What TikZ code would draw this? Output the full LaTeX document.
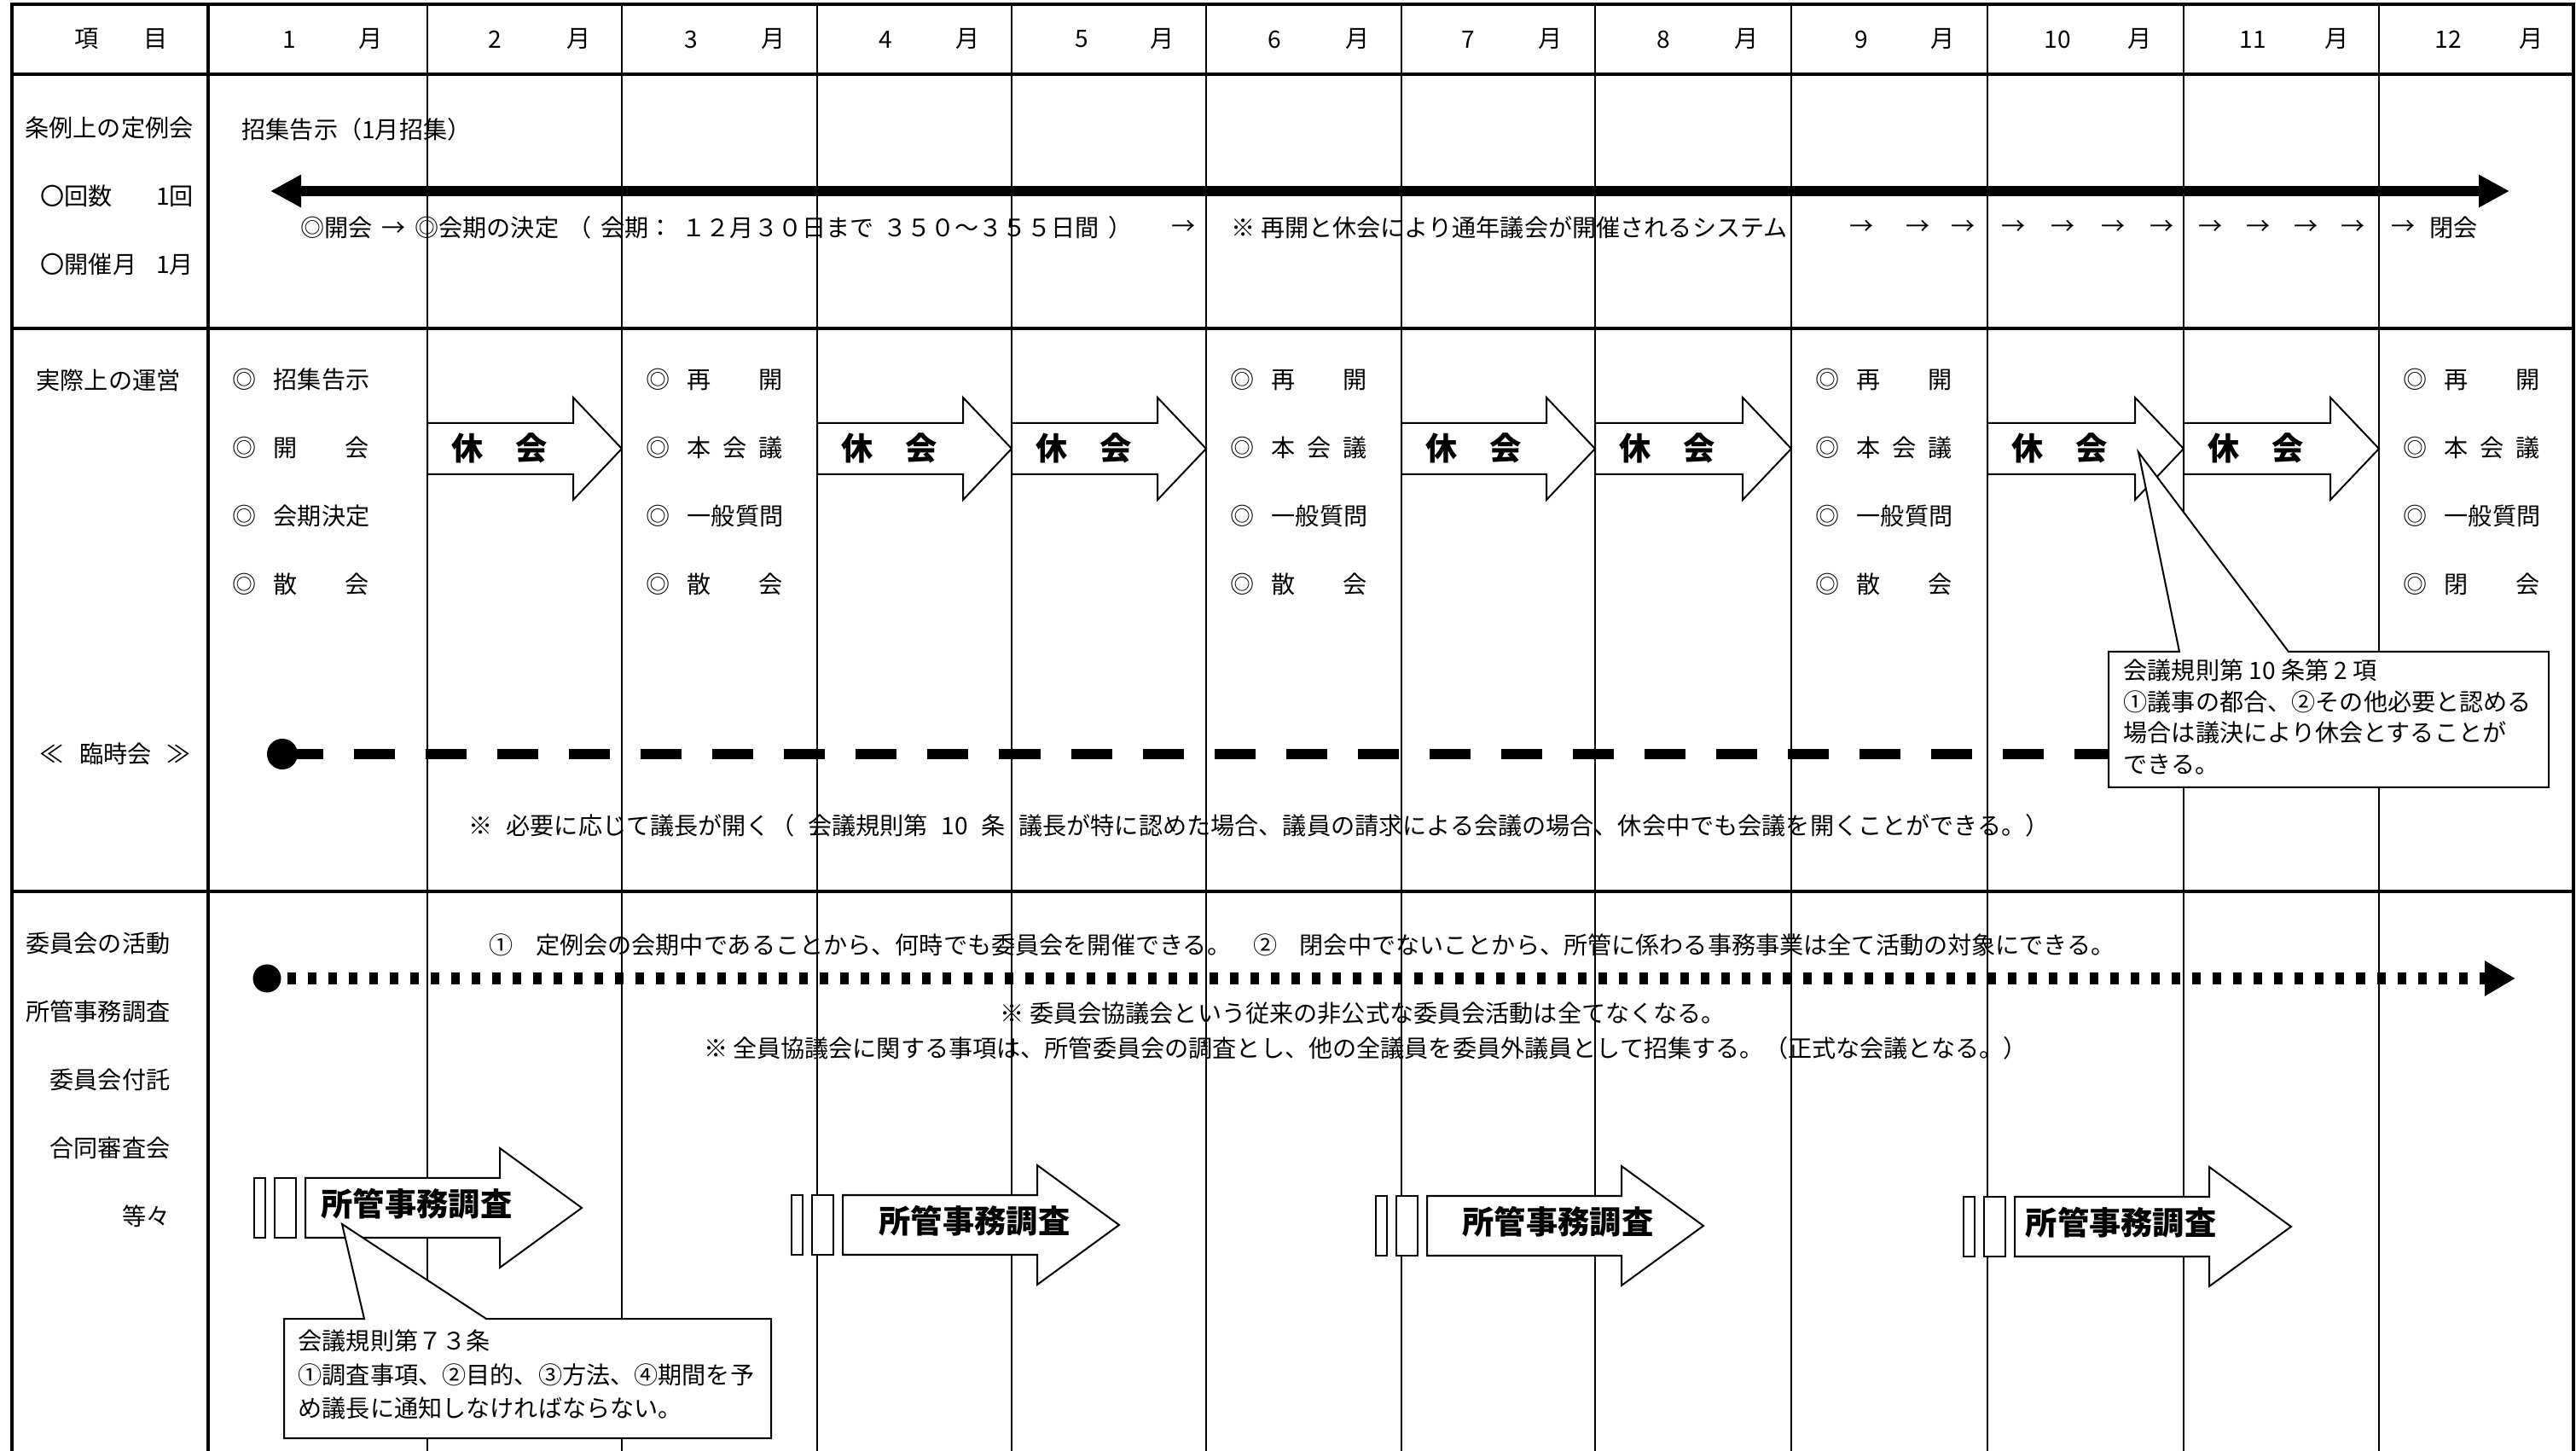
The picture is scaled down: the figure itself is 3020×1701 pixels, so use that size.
\documentclass[tikz,border=0pt]{standalone}
\usepackage{fontspec}
\setmainfont{Noto Sans CJK JP}
\usepackage{tikz}
\usetikzlibrary{arrows.meta}
\newcommand{\spread}[2]{\makebox[#1cm][s]{#2}}

\begin{document}
\begin{tikzpicture}[x=0.01cm,y=-0.01cm,
  txt/.style={inner sep=0pt,font=\fontsize{8pt}{10pt}\selectfont},
  bigtxt/.style={inner sep=0pt,font=\fontsize{10.6pt}{12pt}\selectfont\bfseries},
  thickrule/.style={line width=0.035cm,line cap=rect},
  thinrule/.style={line width=0.02cm},
  blk/.style={draw,fill=white,line width=0.02cm,line join=miter},
  dot/.style={circle,fill=black,inner sep=0pt}]
\useasboundingbox (0,0) rectangle (3020,1701);
% table rules
\foreach \x in {501,729,958,1186,1414,1643,1870,2100,2330,2560,2789}
  \draw[thinrule] (\x,5) -- (\x,1701);
\foreach \x in {14,244,3017}
  \draw[thickrule] (\x,5) -- (\x,1701);
\foreach \y in {5,87,385,1045}
  \draw[thickrule] (14,\y) -- (3017,\y);
% header
\node[txt] (head) at (142,46) {\spread{1.09}{項 目}};
\foreach \n/\nx/\mx in {1/339/435,2/580/679,3/810/907,4/1038/1135,5/1268/1363,6/1494/1592,
    7/1721/1818,8/1950/2048,9/2182/2278,10/2412/2509,11/2641/2740,12/2870/2968}{
  \node[txt] (mn\n) at (\nx,46) {\n};
  \node[txt] (mm\n) at (\mx,46) {月};
}
% row 1: teireikai
\node[txt] (r1a) at (128,150) {条例上の定例会};
\node[txt,anchor=west] (r1b) at (47,230) {\spread{1.79}{〇回数 1回}};
\node[txt,anchor=west] (r1c) at (47,310) {\spread{1.79}{〇開催月 1月}};
\node[txt,anchor=west] (kokuji) at (283,152) {招集告示（1月招集）};
\coordinate (tsL) at (317,224);
\coordinate (tsR) at (2942,224);
\draw[line width=0.12cm,{Triangle[length=0.36cm,width=0.36cm]}-{Triangle[length=0.36cm,width=0.36cm]}] (tsL) -- (tsR);
\node[txt,anchor=west] (kaikai) at (352,267) {\spread{9.74}{◎開会 → ◎会期の決定 （ 会期： １２月３０日まで ３５０～３５５日間 ）}};
\node[txt] (ya0) at (1388,267) {→};
\node[txt,anchor=west] (system) at (1443,267) {※ 再開と休会により通年議会が開催されるシステム};
\foreach \x [count=\i] in {2183,2249,2302,2361,2419,2478,2535,2592,2648,2704,2759,2818}
  \node[txt] (ya\i) at (\x,267) {→};
\node[txt,anchor=west] (heikai) at (2848,267) {閉会};
% row 2: actual running
\node[txt] (r2a) at (127,446) {実際上の運営};
\node[txt,anchor=west] (rinji) at (46,884) {\spread{1.77}{≪ 臨時会 ≫}};
\foreach \t [count=\i] in {招集告示,開 会,会期決定,散 会}
  \node[txt,anchor=west] (it244-\i) at (272,{365+80*\i}) {◎\hspace{0.2cm}\spread{1.12}{\t}};
\foreach \c in {729,1414,2100}
  \foreach \t [count=\i] in {再 開,本 会 議,一般質問,散 会}
    \node[txt,anchor=west] (it\c-\i) at (\c+28,{365+80*\i}) {◎\hspace{0.2cm}\spread{1.12}{\t}};
\foreach \t [count=\i] in {再 開,本 会 議,一般質問,閉 会}
  \node[txt,anchor=west] (it2789-\i) at (2817,{365+80*\i}) {◎\hspace{0.2cm}\spread{1.12}{\t}};
\foreach \l/\r in {501/729,958/1186,1186/1414,1643/1870,1870/2100,2330/2560,2560/2789}{
  \draw[blk] (\l,496) -- (\r-57,496) -- (\r-57,466) -- (\r,526) -- (\r-57,586) -- (\r-57,556) -- (\l,556) -- cycle;
  \node[bigtxt,anchor=west] (kyu\l) at (\l+28,525) {休　会};
}
\node[dot,minimum size=0.36cm] (rdot) at (331,884) {};
\coordinate (rend) at (2480,884);
\draw[line width=0.12cm,dash pattern=on 0.48cm off 0.36cm] (rdot.center) -- (rend);
\node[txt,anchor=west] (hitsuyo) at (549,968) {\spread{18.52}{※ 必要に応じて議長が開く（ 会議規則第 10 条 議長が特に認めた場合、議員の請求による会議の場合、休会中でも会議を開くことができる。）}};
% callout for kyukai
\draw[blk] (2472,764) -- (2555,764) -- (2507,530) -- (2683,764) -- (2988,764) -- (2988,923) -- (2472,923) -- cycle;
\node[txt,anchor=north west,align=left,font=\fontsize{8pt}{10.4pt}\selectfont] (kisoku10) at (2489,772)
  {会議規則第 10 条第 2 項\\①議事の都合、②その他必要と認める\\場合は議決により休会とすることが\\できる。};
% row 3: committees
\foreach \t/\y in {委員会の活動/1106,所管事務調査/1186,委員会付託/1266,合同審査会/1346,等々/1426}
  \node[txt,anchor=east] (r3-\y) at (200,\y) {\t};
\node[txt,anchor=west] (kaiki) at (573,1108) {\spread{19.05}{① 定例会の会期中であることから、何時でも委員会を開催できる。 ② 閉会中でないことから、所管に係わる事務事業は全て活動の対象にできる。}};
\node[dot,minimum size=0.33cm] (idot) at (313,1147) {};
\coordinate (iend) at (2949,1147);
\draw[line width=0.14cm,dash pattern=on 0.1cm off 0.14cm,-{Triangle[length=0.36cm,width=0.39cm]}] (idot.center) -- (iend);
\node[txt,anchor=west] (kyogi) at (1172,1188) {※ 委員会協議会という従来の非公式な委員会活動は全てなくなる。};
\node[txt,anchor=west] (zenin) at (825,1229) {\spread{15.5}{※ 全員協議会に関する事項は、所管委員会の調査とし、他の全議員を委員外議員として招集する。（正式な会議となる。）}};
\foreach \b/\c/\o in {358/1416/20,988/1436/44,1673/1437/43,2362/1438/14}{
  \draw[blk] (\b-60,\c-35) rectangle (\b-47,\c+35);
  \draw[blk] (\b-36,\c-35) rectangle (\b-11,\c+35);
  \draw[blk] (\b,\c-35) -- (\b+228,\c-35) -- (\b+228,\c-70) -- (\b+324,\c) -- (\b+228,\c+70) -- (\b+228,\c+35) -- (\b,\c+35) -- cycle;
  \node[bigtxt,anchor=west] (shokan\b) at (\b+\o-2,\c-5) {所管事務調査};
}
% callout for article 73
\draw[blk] (333,1546) -- (427,1546) -- (401,1435) -- (570,1546) -- (904,1546) -- (904,1686) -- (333,1686) -- cycle;
\node[txt,anchor=north west,align=left,font=\fontsize{8pt}{11.3pt}\selectfont] (kisoku73) at (349,1558)
  {会議規則第７３条\\①調査事項、②目的、③方法、④期間を予\\め議長に通知しなければならない。};
\end{tikzpicture}
\end{document}
